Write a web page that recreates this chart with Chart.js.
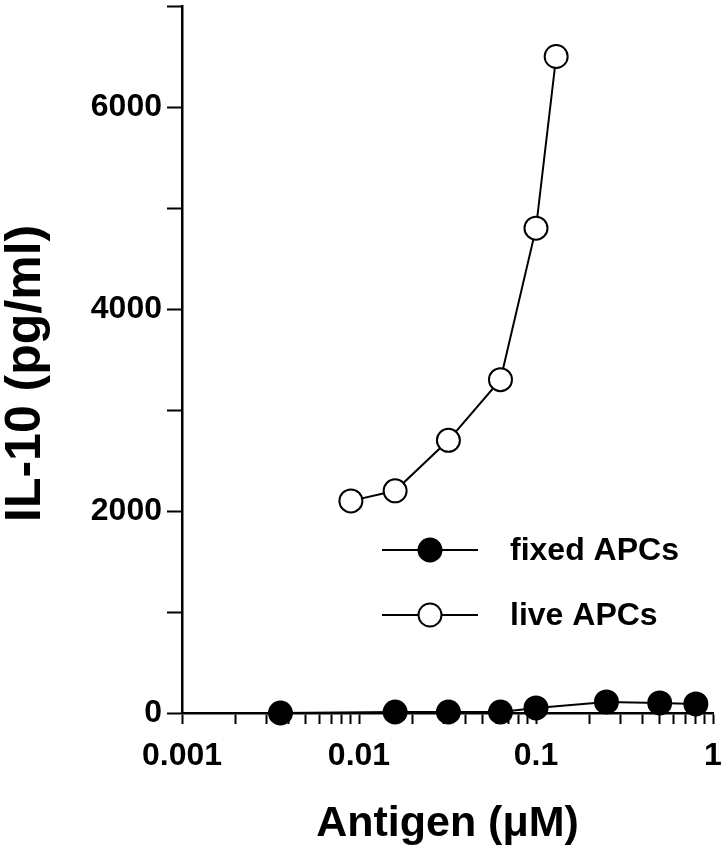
<!DOCTYPE html>
<html>
<head>
<meta charset="utf-8">
<script src="https://cdn.jsdelivr.net/npm/chart.js@4"></script>
<style>
    body { margin: 0; background: #fff; }
    #wrap { width: 724px; height: 853px; }
</style>
</head>
<body>
<div id="wrap"><canvas id="il10Chart" width="724" height="853"></canvas></div>
<script>
// values
const fixedDose = [0.0036, 0.016, 0.032, 0.063, 0.1, 0.25, 0.5, 0.8];
const fixedIL10 = [0, 10, 10, 10, 50, 110, 100, 90];
const liveDose = [0.009, 0.016, 0.032, 0.063, 0.1, 0.13];
const liveIL10 = [2100, 2200, 2700, 3300, 4800, 6500];

const seriesLabels = ["fixed APCs", "live APCs"];
const xDecades = [0.001, 0.01, 0.1];
const xMultipliers = [1, 2, 3, 4, 5, 6, 7, 8, 9];
const yLabelled = [0, 2000, 4000, 6000];

const xTickValues = [];
xDecades.forEach((d) => {
    xMultipliers.forEach((m) => xTickValues.push(+(d * m).toPrecision(3)));
});
xTickValues.push(1);

const FONT = "'Liberation Sans', Arial, Helvetica, sans-serif";

function toPoints(xs, ys) {
    return xs.map((x, i) => ({ x: x, y: ys[i] }));
}

// legend drawn inside the plot, like the original figure
const insetLegend = {
    id: "insetLegend",
    afterDatasetsDraw(chart, args, opts) {
        const ctx = chart.ctx;
        ctx.save();
        chart.data.datasets.forEach((ds, i) => {
            const y = opts.top + i * opts.rowGap;
            ctx.strokeStyle = "#000";
            ctx.lineWidth = 2;
            ctx.beginPath();
            ctx.moveTo(opts.lineStart, y);
            ctx.lineTo(opts.lineEnd, y);
            ctx.stroke();
            ctx.beginPath();
            ctx.arc((opts.lineStart + opts.lineEnd) / 2, y, ds.pointRadius, 0, Math.PI * 2);
            ctx.fillStyle = ds.pointBackgroundColor;
            ctx.fill();
            ctx.stroke();
            ctx.fillStyle = "#000";
            ctx.font = "bold 32px " + FONT;
            ctx.textBaseline = "middle";
            ctx.fillText(ds.label, opts.textX, y + 1);
        });
        ctx.restore();
    },
};

const ctx = document.getElementById("il10Chart").getContext("2d");
new Chart(ctx, {
    type: "line",
    data: {
        datasets: [
            {
                label: seriesLabels[0],
                data: toPoints(fixedDose, fixedIL10),
                borderColor: "#000",
                borderWidth: 2,
                pointRadius: 11.5,
                pointBorderWidth: 2,
                pointBackgroundColor: "#000",
                pointBorderColor: "#000",
                clip: false,
            },
            {
                label: seriesLabels[1],
                data: toPoints(liveDose, liveIL10),
                borderColor: "#000",
                borderWidth: 2,
                pointRadius: 11.5,
                pointBorderWidth: 2,
                pointBackgroundColor: "#fff",
                pointBorderColor: "#000",
                clip: false,
            },
        ],
    },
    options: {
        responsive: false,
        animation: false,
        layout: { autoPadding: false, padding: { top: 6, right: 11, left: 0, bottom: 0 } },
        plugins: {
            legend: { display: false },
            tooltip: { enabled: false },
            insetLegend: { top: 550, rowGap: 65, lineStart: 382, lineEnd: 478, textX: 510 },
        },
        scales: {
            x: {
                type: "logarithmic",
                min: 0.001,
                max: 1,
                afterBuildTicks: (scale) => {
                    scale.ticks = xTickValues.map((v) => ({ value: v }));
                },
                afterFit: (scale) => {
                    scale.height = 140;
                    scale.paddingLeft = 0;
                    scale.paddingRight = 0;
                },
                border: { color: "#000", width: 2.5 },
                grid: {
                    drawOnChartArea: false,
                    color: "#000",
                    tickLength: 11,
                    tickWidth: 2,
                },
                ticks: {
                    autoSkip: false,
                    maxRotation: 0,
                    padding: 13,
                    color: "#000",
                    font: { family: FONT, size: 32, weight: "bold" },
                    callback: (v) => (xDecades.includes(v) || v === 1 ? String(v) : ""),
                },
                title: {
                    display: true,
                    text: "Antigen (\u03bcM)",
                    color: "#000",
                    font: { family: FONT, size: 43, weight: "bold" },
                    padding: { top: 0, bottom: 3 },
                },
            },
            y: {
                min: 0,
                max: 7000,
                afterFit: (scale) => {
                    scale.width = 182;
                    scale.paddingTop = 0;
                    scale.paddingBottom = 0;
                },
                border: { color: "#000", width: 2.5 },
                grid: {
                    drawOnChartArea: false,
                    color: "#000",
                    tickLength: 15,
                    tickWidth: 2,
                },
                ticks: {
                    stepSize: 1000,
                    padding: 5,
                    color: "#000",
                    font: { family: FONT, size: 32, weight: "bold" },
                    callback: (v) => (yLabelled.includes(v) ? String(v) : ""),
                },
                title: {
                    display: true,
                    // trailing spaces nudge the rotated title a bit lower, as in the figure
                    text: "IL-10 (pg/ml)\u00a0\u00a0",
                    color: "#000",
                    font: { family: FONT, size: 50, weight: "bold", lineHeight: 1.05 },
                    padding: { top: 0, bottom: 0 },
                },
            },
        },
    },
    plugins: [insetLegend],
});
</script>
</body>
</html>
